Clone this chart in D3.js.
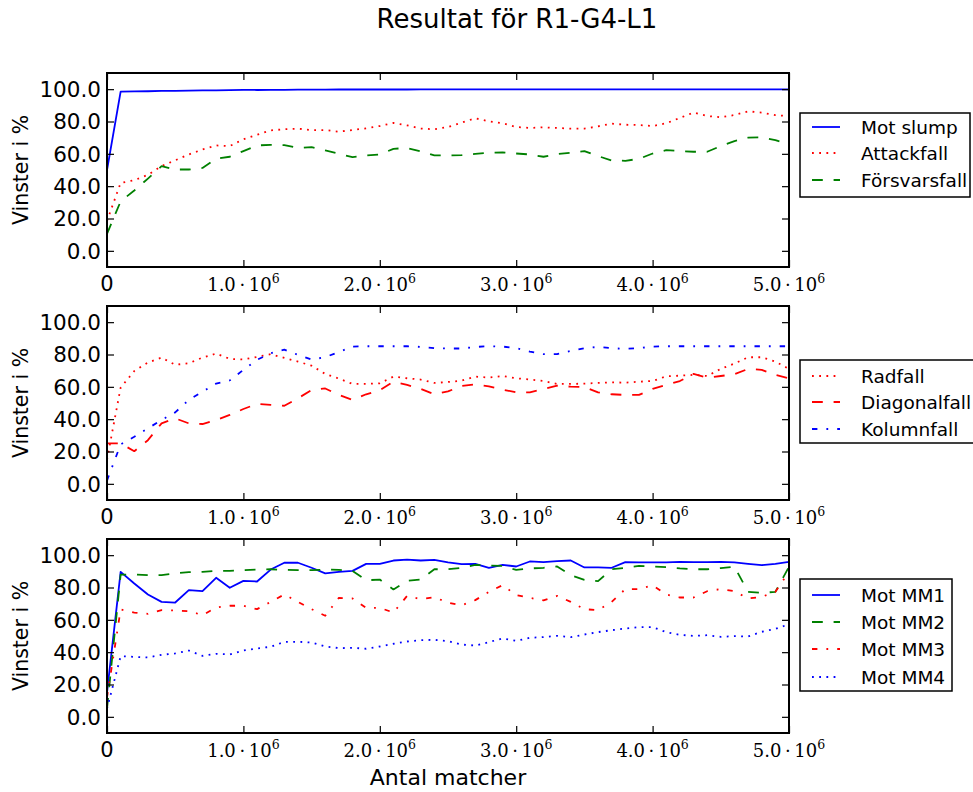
<!DOCTYPE html>
<html><head><meta charset="utf-8">
<script src="https://cdn.jsdelivr.net/npm/d3@7/dist/d3.min.js"></script>
<style>body{margin:0;background:#fff}svg{display:block}</style>
</head><body>
<svg id="c" width="973" height="792"></svg>
<script>
// ---- data ----
const matchesMillions = [0,0.1,0.2,0.3,0.4,0.5,0.6,0.7,0.8,0.9,1.0,1.1,1.2,1.3,1.4,1.5,1.6,1.7,1.8,1.9,2.0,2.1,2.2,2.3,2.4,2.5,2.6,2.7,2.8,2.9,3.0,3.1,3.2,3.3,3.4,3.5,3.6,3.7,3.8,3.9,4.0,4.1,4.2,4.3,4.4,4.5,4.6,4.7,4.8,4.9,5.0];

const motSlump = [50,98.5,98.6,98.7,98.9,99.0,99.1,99.2,99.3,99.4,99.5,99.5,99.6,99.6,99.7,99.7,99.7,99.8,99.8,99.8,99.8,99.8,99.8,99.9,99.9,99.9,99.9,99.9,99.9,99.9,99.9,99.9,99.9,99.9,99.9,99.9,99.9,99.9,99.9,99.9,99.9,99.9,99.9,99.9,99.9,99.9,99.9,99.9,99.9,99.9,99.9];
const attackfall = [18.5,42,43.7,47,52.4,56,59.6,62.7,65.2,64.8,69,71.8,74.5,75.2,75.6,74.7,74.7,73.7,74.7,75.8,77.2,79.1,77.6,75.6,75.2,76.6,79.3,82,80.1,78.9,76.6,76,76.4,76,75.6,75.6,77,78.7,78,77.8,77.2,78.9,82.2,85.5,83.4,82.6,84,86.3,85.5,83.9,83.4];
const forsvarsfall = [10.5,30.6,37.3,44.7,52.4,50.3,50.3,51.3,57,58.2,61.7,65.2,65.6,65.4,63.6,64.2,62.1,60,58,59,59.6,63.1,63.6,61.5,59,59,59.2,60,60.7,60.9,60.2,59.6,58.2,59.8,60.7,61.7,58.6,55.9,55.7,56.9,60.2,62.3,61.7,61.3,61.3,64.8,67.9,70,70.2,68.5,65.8];

const radfall = [15,59.5,69.8,75,78.1,73.6,74.6,78.1,80.6,77.3,76.9,78.5,80.2,77.9,75.6,73.1,68,65.1,61.8,61.8,62.2,66.3,65.3,64.5,62.4,63,63.8,66.3,65.7,66.7,65.3,64.5,63.6,61.8,61.8,62,62.4,62.8,62.6,63.2,63.6,66.5,66.9,67.4,66.7,71.1,74.4,78.3,78.3,75.6,71.1];
const diagonalfall = [25,25,20.2,27,37.4,40.5,37.4,37,39.5,42.6,46.3,49.4,48.8,48.3,52.9,58,59,55,51.9,55.4,57.9,63.2,61.2,58.7,55.4,57.2,60.5,61.6,60.3,58.3,56.6,56.6,58.7,60.7,60.1,59.9,56.6,55.4,55,55,58.7,61.2,63.6,68,65.7,66.7,67.8,71.1,70.5,67.4,65.3];
const kolumnfall = [2,24.4,29.1,34.3,39.5,44.2,51.9,57,62,64,70.5,76.7,80.8,83,79.8,76.9,78.3,81.6,84.9,85.1,85.1,85.1,85.1,84.7,83.9,83.7,83.7,84.7,85.1,84.9,83.9,81.8,80.2,80.2,82.2,83.9,84.7,83.9,83.5,83.9,84.9,85.1,85.1,85.1,85.1,85.1,85.1,85.1,85.1,85.1,85.1];

const motMM1 = [15,89.7,82.5,75.7,71.1,70.7,78.4,77.7,86,79.8,84.1,83.7,91.1,95.3,95.3,92.2,88.7,89.7,90.3,94.6,94.6,96.7,97.3,96.7,97.1,95.5,94.4,94.6,92.2,94,93,96.1,95.7,96.3,96.7,92.4,92.4,92.2,95.7,95.5,95.5,95.5,95.9,95.7,95.7,95.9,95.5,94.6,93.8,94.6,95.9];
const motMM2 = [5,88,88,87.6,87.6,88.7,89.5,89.7,90.3,90.3,90.7,91.1,91.3,90.9,90.7,90.7,91.1,90.9,90.3,84.5,84.9,78.8,84.1,84.9,91.3,91.3,92.2,94,93.6,93.4,90.9,91.8,92.2,93,87.6,84.7,83.9,91.3,92.2,93.4,93,92.6,91.8,91.3,91.3,92,92.8,77.3,76.7,77.3,92.8];
const motMM3 = [12,66.4,64.5,63.7,66,65.8,65.4,62.9,67.6,68.7,68.7,66.6,71.1,75.7,71.1,66.6,62.5,73.6,73.2,67.4,67.4,64.5,74.8,72.8,74,70.6,69,72.2,77.3,81.4,75.3,73.6,72,74.8,71.1,66.6,66,71.1,79,79,81.4,75.7,73.8,73.8,77.7,79,77.7,73.2,74.2,77.3,89.7];
const motMM4 = [5,37.5,37.1,36.7,38.4,39.2,41,37.7,39,38.6,41,42.3,43.3,46.4,46.4,46,43.5,42.5,42.7,42.1,43.5,45.2,46.6,47.4,47.6,46.8,44.7,44.1,46.2,48.5,47,48.9,49.3,50.1,49.3,50.9,52.4,53.6,54.6,55.5,55.5,52.4,50.7,50.1,50.5,49.5,49.9,49.7,52.6,54.4,57.3];

const xTickValues = [0,1,2,3,4,5];
const xTickMantissas = ["0","1.0","2.0","3.0","4.0","5.0"];
const xTickExponent = "6";
const yTickValues = [0,20,40,60,80,100];

const titleText = "Resultat för R1-G4-L1";
const yLabelText = "Vinster i %";
const xLabelText = "Antal matcher";

const panel1Names = ["Mot slump","Attackfall","Försvarsfall"];
const panel2Names = ["Radfall","Diagonalfall","Kolumnfall"];
const panel3Names = ["Mot MM1","Mot MM2","Mot MM3","Mot MM4"];

// ---- styles ----
const S = 1.8;
const dashStyles = {
  solid: null,
  dashed: [6*S,6*S].join(","),
  dotted: [1*S,3*S].join(","),
  dashdot: [3*S,5*S,1*S,5*S].join(",")
};
const BLUE="#0000ff", RED="#ff0000", GREEN="#008000";

const panels = [
  {top:73, series:[
    {name:panel1Names[0], values:motSlump, color:BLUE, dash:"solid"},
    {name:panel1Names[1], values:attackfall, color:RED, dash:"dotted"},
    {name:panel1Names[2], values:forsvarsfall, color:GREEN, dash:"dashed"}],
   legend:{x:800,y:113,w:170,h:84,rows:[127,153,180]}},
  {top:306, series:[
    {name:panel2Names[0], values:radfall, color:RED, dash:"dotted"},
    {name:panel2Names[1], values:diagonalfall, color:RED, dash:"dashed"},
    {name:panel2Names[2], values:kolumnfall, color:BLUE, dash:"dashdot"}],
   legend:{x:800,y:360,w:180,h:83,rows:[376,402,429]}},
  {top:539, series:[
    {name:panel3Names[0], values:motMM1, color:BLUE, dash:"solid"},
    {name:panel3Names[1], values:motMM2, color:GREEN, dash:"dashed"},
    {name:panel3Names[2], values:motMM3, color:RED, dash:"dashdot"},
    {name:panel3Names[3], values:motMM4, color:BLUE, dash:"dotted"}],
   legend:{x:800,y:579,w:152,h:112,rows:[595,622,649,677]}}
];

const svg = d3.select("#c");
const left = 107, right = 789, H = 194;
const x = d3.scaleLinear().domain([0,5]).range([left,right]);
const SANS = "'DejaVu Sans', sans-serif";
const SERIF = "'DejaVu Serif', 'Liberation Serif', serif";

svg.append("text").attr("x",517).attr("y",28).attr("text-anchor","middle")
  .attr("font-family",SANS).attr("font-size",26).text(titleText);

panels.forEach((p,pi)=>{
  const y = d3.scaleLinear().domain([-10,110]).range([p.top+H,p.top]);
  const g = svg.append("g");
  const cid = "clip"+pi;
  svg.append("clipPath").attr("id",cid).append("rect")
    .attr("x",left).attr("y",p.top).attr("width",right-left).attr("height",H);

  const line = d3.line().x((d,i)=>x(matchesMillions[i])).y(d=>y(d));
  const lg = g.append("g").attr("clip-path",`url(#${cid})`);
  p.series.forEach(s=>{
    lg.append("path").attr("d",line(s.values)).attr("fill","none")
      .attr("stroke",s.color).attr("stroke-width",1.8)
      .attr("stroke-dasharray",dashStyles[s.dash])
      .attr("stroke-linejoin","round").attr("stroke-linecap","butt");
  });

  const tickLen = 7;
  const axL = d3.axisLeft(y).tickValues(yTickValues).tickSize(-tickLen).tickFormat("");
  const axR = d3.axisRight(y).tickValues(yTickValues).tickSize(-tickLen).tickFormat("");
  const axB = d3.axisBottom(x).tickValues(xTickValues).tickSize(-tickLen).tickFormat("");
  const axT = d3.axisTop(x).tickValues(xTickValues).tickSize(-tickLen).tickFormat("");
  [[axL,`translate(${left},0)`],[axR,`translate(${right},0)`],
   [axB,`translate(0,${p.top+H})`],[axT,`translate(0,${p.top})`]].forEach(([ax,tr])=>{
    const a = g.append("g").attr("transform",tr).call(ax);
    a.select(".domain").remove();
    a.selectAll("line").attr("stroke","#000").attr("stroke-width",1.2);
  });
  g.append("rect").attr("x",left).attr("y",p.top).attr("width",right-left).attr("height",H)
    .attr("fill","none").attr("stroke","#000").attr("stroke-width",2);

  yTickValues.forEach(v=>{
    g.append("text").attr("x",left-6).attr("y",y(v)).attr("dy","0.36em")
      .attr("text-anchor","end").attr("font-family",SANS).attr("font-size",21.5)
      .text(d3.format(".1f")(v));
  });
  xTickValues.forEach((v,i)=>{
    const t = g.append("text").attr("x",x(v)).attr("y",p.top+H+24)
      .attr("text-anchor","middle");
    if(i===0){
      t.attr("font-family",SANS).attr("font-size",21).text(xTickMantissas[i]);
    } else {
      t.attr("font-family",SERIF).attr("font-size",18);
      t.append("tspan").text(xTickMantissas[i]+"\u2009\u00B7\u200910");
      t.append("tspan").attr("font-size",12.5).attr("dy",-8).text(xTickExponent);
    }
  });
  g.append("text").attr("transform",`translate(28,${p.top+H/2}) rotate(-90)`)
    .attr("text-anchor","middle").attr("font-family",SANS).attr("font-size",20.5)
    .text(yLabelText);

  const L = p.legend;
  const lgd = g.append("g");
  lgd.append("rect").attr("x",L.x).attr("y",L.y).attr("width",L.w).attr("height",L.h)
    .attr("fill","#fff").attr("stroke","#000").attr("stroke-width",1.5);
  p.series.forEach((s,i)=>{
    lgd.append("line").attr("x1",812).attr("x2",840).attr("y1",L.rows[i]).attr("y2",L.rows[i])
      .attr("stroke",s.color).attr("stroke-width",1.8).attr("stroke-dasharray",dashStyles[s.dash]);
    lgd.append("text").attr("x",861).attr("y",L.rows[i]).attr("dy","0.36em")
      .attr("font-family",SANS).attr("font-size",18.5).text(s.name);
  });
});

svg.append("text").attr("x",448).attr("y",785).attr("text-anchor","middle")
  .attr("font-family",SANS).attr("font-size",22).text(xLabelText);
</script>
</body></html>
